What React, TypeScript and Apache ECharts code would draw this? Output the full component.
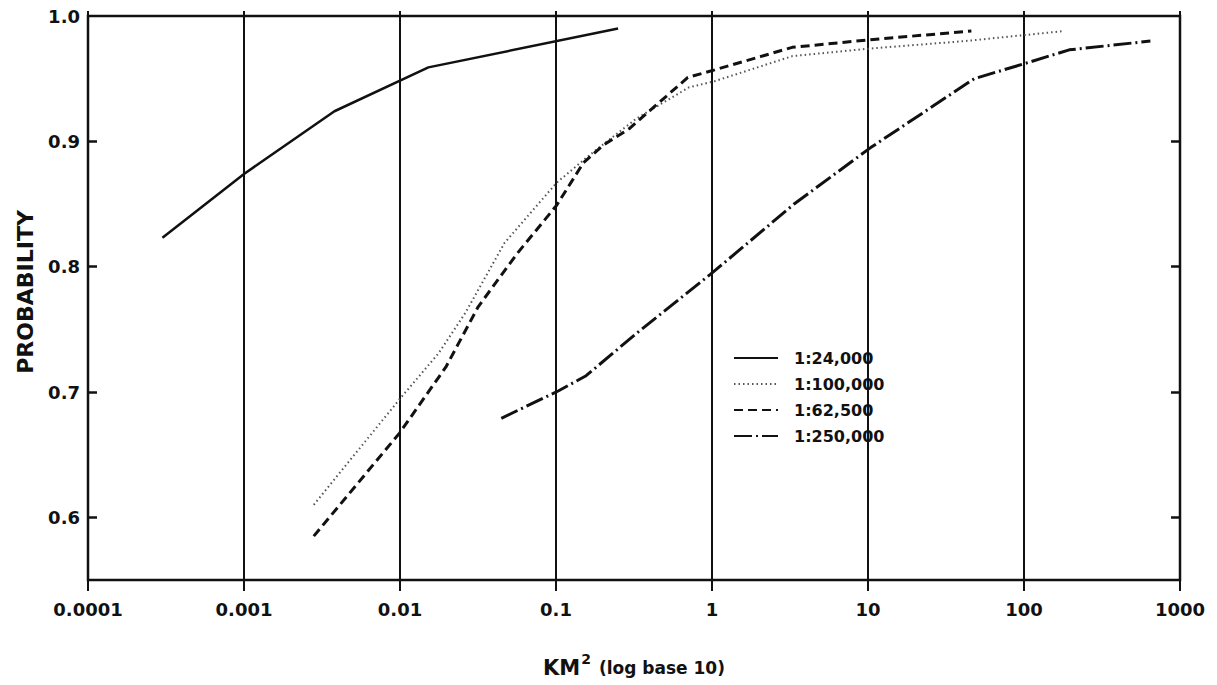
import React, { useEffect, useRef } from "react";
import * as echarts from "echarts";

// ---- data ----
const seriesNames = ["1:24,000", "1:100,000", "1:62,500", "1:250,000"];

const x24k = [0.0003, 0.001, 0.0038, 0.0152, 0.25];
const y24k = [0.823, 0.874, 0.924, 0.959, 0.99];

const x100k = [0.0028, 0.0099, 0.0177, 0.0262, 0.0468, 0.101, 0.164, 0.326, 0.71, 1.04, 3.28, 10.2, 42, 181];
const y100k = [0.61, 0.694, 0.731, 0.763, 0.819, 0.867, 0.889, 0.918, 0.943, 0.948, 0.968, 0.974, 0.98, 0.988];

const x62k = [0.0028, 0.0099, 0.0197, 0.0317, 0.0568, 0.101, 0.15, 0.201, 0.294, 0.7, 1.04, 3.27, 10.2, 46];
const y62k = [0.585, 0.667, 0.72, 0.768, 0.811, 0.849, 0.883, 0.897, 0.91, 0.951, 0.957, 0.975, 0.981, 0.988];

const x250k = [0.0446, 0.104, 0.156, 0.337, 0.98, 3.36, 10.4, 48, 100.7, 195, 646];
const y250k = [0.679, 0.701, 0.713, 0.748, 0.794, 0.85, 0.895, 0.95, 0.962, 0.973, 0.98];

const xTickLabels = ["0.0001", "0.001", "0.01", "0.1", "1", "10", "100", "1000"];
const yTickValues = [0.6, 0.7, 0.8, 0.9, 1.0];
const yInnerTickValues = [0.6, 0.7, 0.8, 0.9];

const FONT = "DejaVu Sans";
const INK = "#111";

function pairs(xs: number[], ys: number[]) {
  return xs.map((x, i) => [x, ys[i]]);
}

export default function App() {
  const ref = useRef<HTMLDivElement>(null);

  useEffect(() => {
    if (!ref.current) return;
    const chart = echarts.init(ref.current, undefined, { renderer: "svg" });

    const baseLine = (name: string, data: number[][], lineStyle: any) => ({
      name,
      type: "line",
      data,
      symbol: "none",
      showSymbol: false,
      smooth: false,
      lineStyle,
      itemStyle: { color: lineStyle.color },
      z: 3,
    });

    chart.setOption({
      animation: false,
      backgroundColor: "#fff",
      grid: {
        left: 88,
        right: 37,
        top: 16,
        bottom: 105,
        show: true,
        borderColor: INK,
        borderWidth: 2.5,
        backgroundColor: "transparent",
      },
      legend: {
        orient: "vertical",
        left: 733,
        top: 350,
        padding: 0,
        itemWidth: 44,
        itemHeight: 16,
        itemGap: 10,
        itemStyle: { opacity: 0 },
        data: seriesNames,
        textStyle: {
          fontFamily: FONT,
          fontWeight: "bold",
          fontSize: 16,
          color: INK,
          padding: [0, 0, 0, 11],
        },
      },
      xAxis: [
        {
          type: "log",
          logBase: 10,
          min: 0.0001,
          max: 1000,
          splitNumber: 7,
          position: "bottom",
          name: "{a|KM}{b|2}{c| (log base 10)}",
          nameLocation: "middle",
          nameGap: 72,
          nameTextStyle: {
            color: INK,
            rich: {
              a: { fontFamily: FONT, fontWeight: "bold", fontSize: 21, color: INK },
              b: { fontFamily: FONT, fontWeight: "bold", fontSize: 14, color: INK, padding: [0, 2, 18, 1] },
              c: { fontFamily: FONT, fontWeight: "bold", fontSize: 17, color: INK },
            },
          },
          axisLine: { show: false },
          axisTick: { show: true, inside: false, length: 11, lineStyle: { color: INK, width: 2 } },
          axisLabel: {
            margin: 20,
            fontFamily: FONT,
            fontWeight: "bold",
            fontSize: 18,
            color: INK,
            formatter: (v: number) => xTickLabels[Math.round(Math.log10(v)) + 4],
          },
          splitLine: { show: true, lineStyle: { color: INK, width: 2 } },
        },
        {
          type: "log",
          logBase: 10,
          min: 0.0001,
          max: 1000,
          splitNumber: 7,
          position: "top",
          axisLine: { show: false },
          axisTick: { show: true, inside: false, length: 5, lineStyle: { color: INK, width: 2 } },
          axisLabel: { show: false },
          splitLine: { show: false },
        },
      ],
      yAxis: [
        {
          type: "value",
          min: 0.55,
          max: 1.0,
          position: "left",
          name: "PROBABILITY",
          nameLocation: "middle",
          nameGap: 52,
          nameTextStyle: {
            fontFamily: FONT,
            fontWeight: "bold",
            fontSize: 22,
            color: INK,
            padding: [0, 0, 0, 12],
          },
          axisLine: { show: false },
          axisTick: {
            show: true,
            inside: true,
            length: 9,
            customValues: yInnerTickValues,
            lineStyle: { color: INK, width: 2.5 },
          },
          axisLabel: {
            margin: 8,
            fontFamily: FONT,
            fontWeight: "bold",
            fontSize: 18,
            color: INK,
            customValues: yTickValues,
            formatter: (v: number) => v.toFixed(1),
          },
          splitLine: { show: false },
        },
        {
          type: "value",
          min: 0.55,
          max: 1.0,
          position: "right",
          axisLine: { show: false },
          axisTick: {
            show: true,
            inside: true,
            length: 9,
            customValues: yInnerTickValues,
            lineStyle: { color: INK, width: 2.5 },
          },
          axisLabel: { show: false },
          splitLine: { show: false },
        },
      ],
      series: [
        baseLine(seriesNames[0], pairs(x24k, y24k), { color: INK, width: 2.5, type: "solid" }),
        baseLine(seriesNames[1], pairs(x100k, y100k), { color: "#555", width: 2, type: [1.5, 3] }),
        baseLine(seriesNames[2], pairs(x62k, y62k), { color: INK, width: 3, type: [9, 5] }),
        baseLine(seriesNames[3], pairs(x250k, y250k), { color: INK, width: 3, type: [18, 4, 2, 4] }),
      ],
    });

    return () => chart.dispose();
  }, []);

  return (
    <div
      ref={ref}
      style={{ position: "fixed", left: 0, top: 0, width: 1217, height: 685, background: "#fff" }}
    />
  );
}
